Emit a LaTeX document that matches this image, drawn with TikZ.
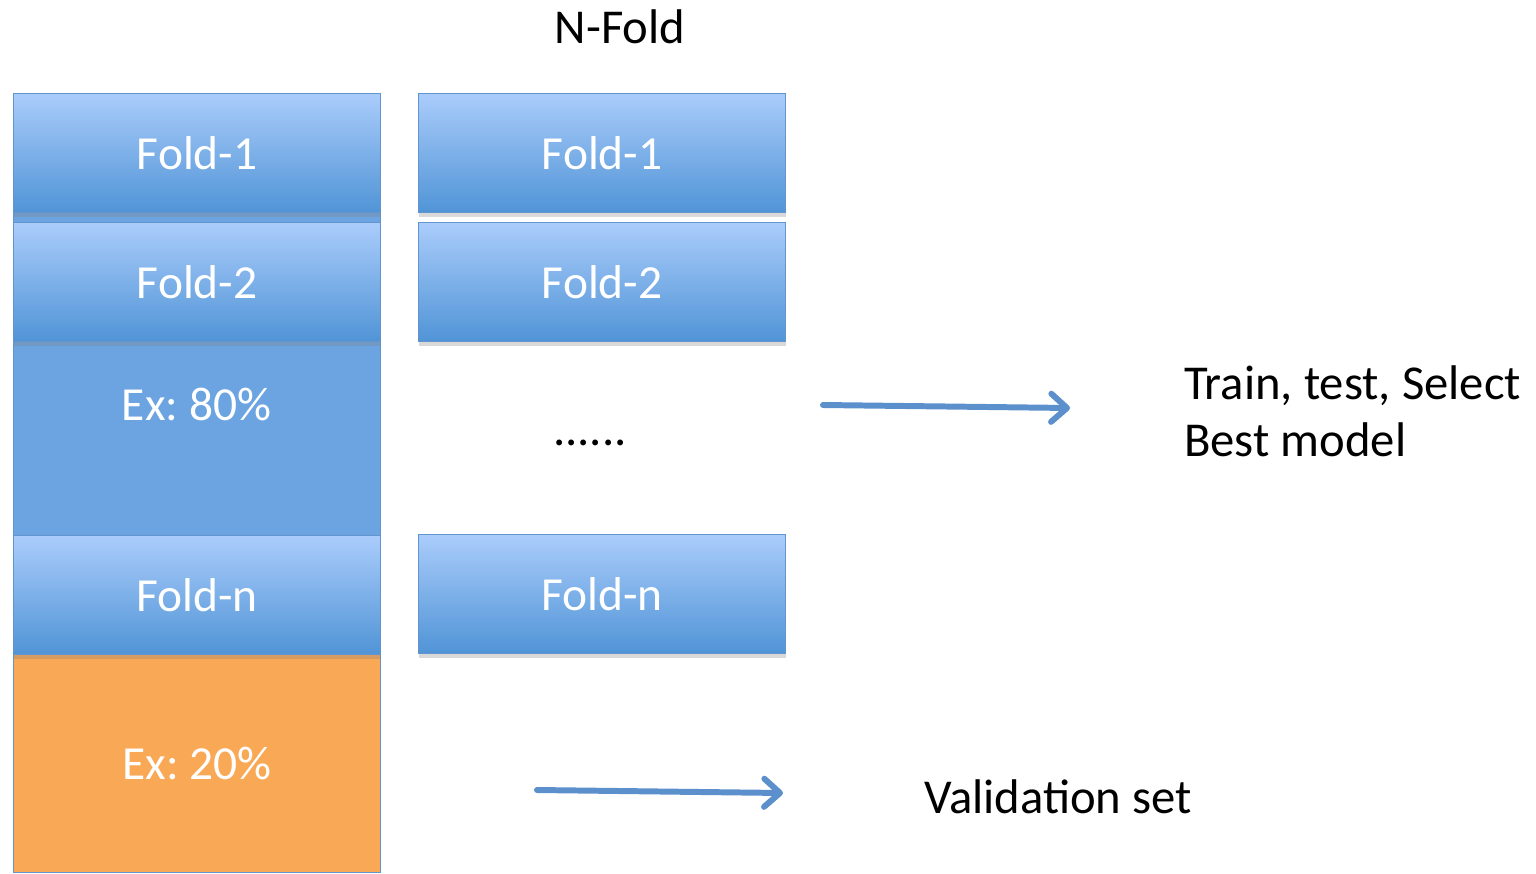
\documentclass[tikz,border=0pt]{standalone}
\usepackage{fontspec}
\setmainfont{Carlito}
\usetikzlibrary{arrows.meta,shadows,positioning}
\frenchspacing

\definecolor{foldtop}{RGB}{170,204,251}
\definecolor{foldbot}{RGB}{80,148,214}
\definecolor{foldedge}{RGB}{98,148,206}
\definecolor{foldmid}{RGB}{108,164,225}
\definecolor{valorange}{RGB}{249,168,86}
\definecolor{arrowblue}{RGB}{92,144,204}

\tikzset{
  fold/.style={draw=foldedge, line width=0.8pt, top color=foldtop, bottom color=foldbot,
    minimum width=7.34cm, minimum height=2.38cm, inner sep=0pt, anchor=north west,
    text=white, font=\fontsize{27}{32}\selectfont,
    drop shadow={shadow xshift=0pt, shadow yshift=-2.5pt, opacity=0.3}},
  label/.style={font=\fontsize{27.7}{32.5}\selectfont},
  flow/.style={draw=arrowblue, line width=3.4pt, line cap=round,
    -{Straight Barb[length=9pt, width=16pt, line cap=round, line join=round]}}
}

\begin{document}
\begin{tikzpicture}

\useasboundingbox (0,0) rectangle (30.72,-17.46);

% ============================================
% 1. LEWA KOLUMNA
% ============================================
\node[draw=foldedge, line width=0.8pt, fill=foldmid, anchor=north west,
  minimum width=7.34cm, minimum height=11.24cm] (P) at (0.26,-1.86) {};
\node[draw=foldedge, line width=0.8pt, fill=valorange, anchor=north west,
  minimum width=7.34cm, minimum height=4.36cm, text=white,
  font=\fontsize{27}{32}\selectfont] (V) at (0.26,-13.08) {Ex: 20\%};
\node[text=white, font=\fontsize{27}{32}\selectfont] (E) at (3.93,-8.08) {Ex: 80\%};

\node[fold] (L1) at (0.26,-1.86) {Fold-1};
\node[fold] (L2) at (0.26,-4.44) {Fold-2};
\node[fold] (Ln) at (0.26,-10.70) {Fold-n};

% ============================================
% 2. PRAWA KOLUMNA
% ============================================
\node[label] (T) at (12.4,-0.54) {N-Fold};

\node[fold] (R1) at (8.36,-1.86) {Fold-1};
\node[fold] (R2) at (8.36,-4.44) {Fold-2};
\node[label] (D) at (11.8,-8.86) {......};
\node[fold] (Rn) at (8.36,-10.68) {Fold-n};

% ============================================
% 3. STRZALKI I OPISY
% ============================================
\node[label, anchor=west, align=left] (S) at (23.56,-8.22) {Train, test, Select\\Best model};
\node[label] (W) at (21.16,-15.94) {Validation set};

\coordinate (a1) at (16.46,-8.10);
\coordinate (a2) at (21.40,-8.16);
\coordinate (b1) at (10.74,-15.80);
\coordinate (b2) at (15.66,-15.86);

\draw[flow] (a1) -- (a2);
\draw[flow] (b1) -- (b2);

\end{tikzpicture}
\end{document}
